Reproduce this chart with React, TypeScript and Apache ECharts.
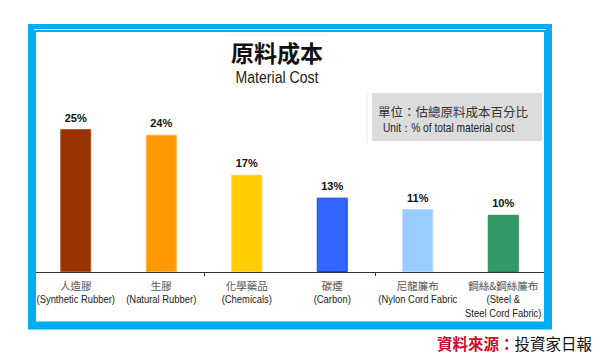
import React, { useEffect, useRef } from "react";
import * as echarts from "echarts";

const categoriesCn = ["人造膠", "生膠", "化學藥品", "碳煙", "尼龍簾布", "鋼絲&鋼絲簾布"];
const categoriesEn = [
  "(Synthetic Rubber)",
  "(Natural Rubber)",
  "(Chemicals)",
  "(Carbon)",
  "(Nylon Cord Fabric",
  "(Steel &\nSteel Cord Fabric)",
];
const values = [25, 24, 17, 13, 11, 10];
const barColors = ["#993300", "#FF9900", "#FFCC00", "#3366FF", "#99CCFF", "#339966"];
const barBorders = ["#B5542A", "#FFB347", "#FFD633", "#1144EE", "#B3D9FF", "#2A8A58"];

const titleCn = "原料成本";
const titleEn = "Material Cost";
const unitCn = "單位：估總原料成本百分比";
const unitEn = "Unit：% of total material cost";
const sourceLabel = "資料來源：";
const sourceName = "投資家日報";

const SANS = '"Liberation Sans", Arial, sans-serif';
const CJK = '"Noto Sans CJK TC", "Noto Sans CJK SC", sans-serif';

export default function App() {
  const ref = useRef<HTMLDivElement>(null);
  useEffect(() => {
    if (!ref.current) return;
    const chart = echarts.init(ref.current, null, { renderer: "svg" });
    const baseGraphic: any[] = [
      {
        type: "line",
        shape: { x1: 367, y1: 90, x2: 367, y2: 143 },
        style: { stroke: "#eeeeee", lineWidth: 1 },
      },
      {
        type: "rect",
        shape: { x: 372, y: 93, width: 170, height: 48 },
        style: { fill: "#DCDCDC" },
      },
      {
        type: "text",
        x: 378,
        y: 111,
        style: { text: unitCn, fontFamily: CJK, fontSize: 12.5, fill: "#333333", verticalAlign: "middle" },
      },
      {
        type: "text",
        x: 383,
        y: 128,
        scaleX: 0.85,
        style: { text: unitEn, fontFamily: SANS, fontSize: 12, fill: "#222222", verticalAlign: "middle" },
      },
      {
        type: "line",
        shape: { x1: 225, y1: 35, x2: 328, y2: 35 },
        style: { stroke: "#f2f2f2", lineWidth: 1 },
      },
      {
        type: "text",
        x: 277,
        y: 52,
        style: {
          text: titleCn,
          fontFamily: CJK,
          fontWeight: "bold",
          fontSize: 23,
          fill: "#111111",
          align: "center",
          verticalAlign: "middle",
        },
      },
      {
        type: "text",
        x: 277,
        y: 77,
        scaleX: 0.88,
        style: {
          text: titleEn,
          fontFamily: SANS,
          fontSize: 16,
          fill: "#222222",
          align: "center",
          verticalAlign: "middle",
        },
      },
      {
        type: "rect",
        z: 100,
        shape: { x: 32, y: 28, width: 516, height: 297.5 },
        style: { fill: "none", stroke: "#00AEEF", lineWidth: 8 },
      },
      {
        type: "line",
        z: 101,
        shape: { x1: 34, y1: 29.5, x2: 546, y2: 29.5 },
        style: { stroke: "#ffffff", lineWidth: 1 },
      },
      {
        type: "text",
        x: 592,
        y: 343,
        style: {
          text: "{r|" + sourceLabel + "}{b|" + sourceName + "}",
          align: "right",
          verticalAlign: "middle",
          rich: {
            r: { fontFamily: CJK, fontSize: 15.5, fill: "#C8102E", fontWeight: "bold" },
            b: { fontFamily: CJK, fontSize: 15.5, fill: "#111111" },
          },
        },
      },
    ];
    chart.setOption({
      animation: false,
      backgroundColor: "#ffffff",
      grid: { left: 33, width: 513, top: 100.4, height: 171.6 },
      xAxis: {
        type: "category",
        data: categoriesCn,
        axisLine: { lineStyle: { color: "#333333", width: 1 } },
        axisTick: { show: true, length: 4, lineStyle: { color: "#333333" } },
        axisLabel: { show: false },
      },
      yAxis: { type: "value", min: 0, max: 30, show: false, splitLine: { show: false } },
      series: [
        {
          type: "bar",
          barWidth: 31,
          data: values.map((v, i) => ({
            value: v,
            itemStyle: { color: barColors[i], borderColor: barBorders[i], borderWidth: 1 },
          })),
          label: {
            show: true,
            position: "top",
            distance: 6,
            formatter: "{c}%",
            fontFamily: SANS,
            fontWeight: "bold",
            fontSize: 11,
            color: "#111111",
          },
        },
      ],
      graphic: baseGraphic,
    });
    const labels: any[] = [];
    categoriesCn.forEach((cn, i) => {
      const px = chart.convertToPixel({ xAxisIndex: 0 }, i) as number;
      const basePx = chart.convertToPixel({ yAxisIndex: 0 }, 0) as number;
      labels.push({
        type: "text",
        x: px,
        y: basePx + 13,
        style: {
          text: cn,
          fontFamily: CJK,
          fontSize: 10.5,
          fill: "#555555",
          align: "center",
          verticalAlign: "middle",
        },
      });
      categoriesEn[i].split("\n").forEach((line, j) => {
        labels.push({
          type: "text",
          x: px,
          y: basePx + 27 + j * 14,
          scaleX: 0.82,
          style: {
            text: line,
            fontFamily: SANS,
            fontSize: 11.5,
            fill: "#222222",
            align: "center",
            verticalAlign: "middle",
          },
        });
      });
    });
    chart.setOption({ graphic: [...baseGraphic, ...labels] });
    return () => chart.dispose();
  }, []);
  return (
    <div
      ref={ref}
      style={{ position: "fixed", left: 0, top: 0, width: 600, height: 362 }}
    />
  );
}
